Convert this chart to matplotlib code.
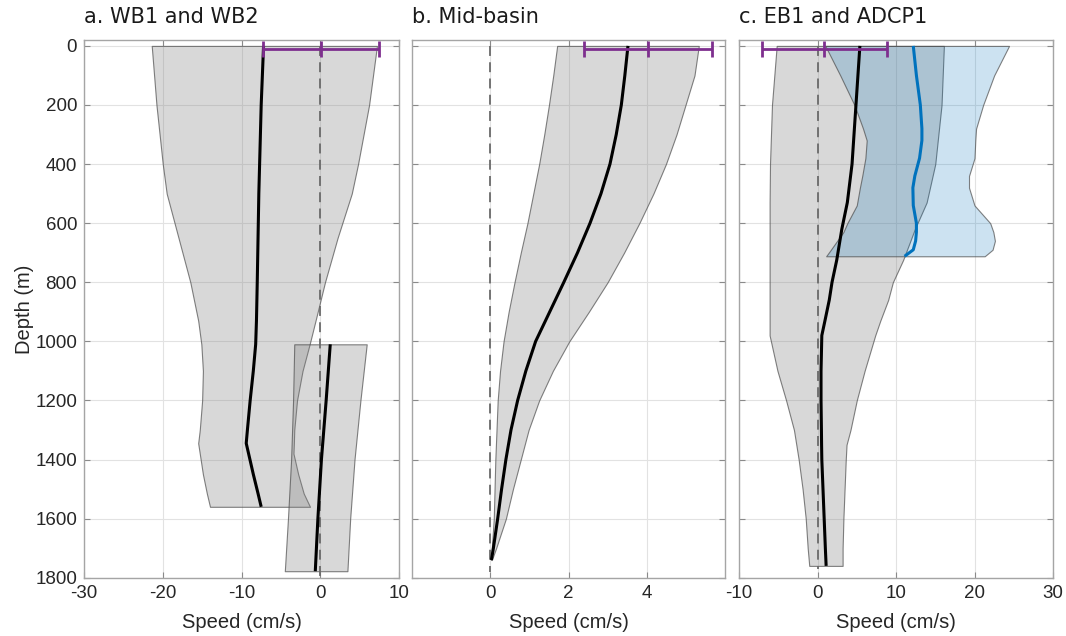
import matplotlib
matplotlib.use("Agg")
import matplotlib.pyplot as plt

plt.rcParams["axes.unicode_minus"] = False

# ---------------- data ----------------
# a. WB1 (upper mooring) and WB2 (lower mooring)
wb1_depth = [0, 200, 400, 500, 650, 800, 930, 1010, 1100, 1200, 1300, 1345, 1380, 1450, 1515, 1560]
wb1_mean = [-7.2, -7.5, -7.7, -7.8, -7.9, -8.0, -8.1, -8.2, -8.5, -8.9, -9.25, -9.4, -9.1, -8.5, -7.9, -7.5]
wb1_low = [-21.4, -20.8, -20.0, -19.5, -18.0, -16.5, -15.5, -15.1, -14.9, -15.0, -15.3, -15.5, -15.3, -14.9, -14.4, -14.0]
wb1_high = [7.2, 6.2, 4.8, 4.0, 2.2, 0.6, -0.6, -1.35, -2.25, -2.95, -3.3, -3.35, -3.4, -2.8, -2.1, -1.3]

wb2_depth = [1010, 1200, 1400, 1600, 1778]
wb2_mean = [1.27, 0.75, 0.15, -0.3, -0.63]
wb2_low = [-3.3, -3.45, -3.7, -4.1, -4.5]
wb2_high = [5.9, 5.1, 4.35, 3.8, 3.45]

# b. Mid-basin
mid_depth = [0, 100, 200, 300, 400, 500, 600, 700, 800, 900, 1000, 1100, 1200, 1300, 1400, 1500, 1600, 1700, 1740]
mid_mean = [3.52, 3.44, 3.35, 3.22, 3.06, 2.83, 2.55, 2.23, 1.88, 1.52, 1.16, 0.91, 0.70, 0.53, 0.40, 0.29, 0.19, 0.08, 0.03]
mid_low = [1.71, 1.61, 1.50, 1.38, 1.25, 1.10, 0.95, 0.78, 0.62, 0.47, 0.34, 0.25, 0.19, 0.16, 0.13, 0.11, 0.09, 0.04, 0.02]
mid_high = [5.33, 5.22, 4.99, 4.76, 4.49, 4.17, 3.81, 3.42, 3.00, 2.52, 2.02, 1.60, 1.25, 0.98, 0.78, 0.58, 0.40, 0.15, 0.04]

# c. EB1 and ADCP1
eb1_depth = [0, 200, 400, 530, 620, 725, 800, 860, 930, 980, 1100, 1200, 1300, 1350, 1400, 1500, 1600, 1700, 1760]
eb1_mean = [5.4, 4.9, 4.4, 3.8, 3.1, 2.45, 1.85, 1.5, 0.95, 0.55, 0.45, 0.45, 0.5, 0.52, 0.55, 0.7, 0.85, 1.0, 1.1]
eb1_low = [-5.2, -5.8, -6.05, -6.1, -6.1, -6.1, -6.1, -6.1, -6.1, -6.1, -5.1, -4.0, -3.0, -2.7, -2.4, -1.9, -1.5, -1.25, -1.05]
eb1_high = [16.1, 15.8, 15.0, 13.9, 12.4, 10.9, 9.6, 9.0, 8.0, 7.35, 6.0, 5.0, 4.2, 3.7, 3.6, 3.45, 3.3, 3.2, 3.2]

adcp_depth = [0, 100, 200, 280, 320, 380, 440, 480, 540, 600, 630, 660, 690, 712]
adcp_mean = [12.2, 12.6, 13.1, 13.3, 13.3, 13.0, 12.4, 12.15, 12.2, 12.6, 12.6, 12.5, 12.2, 11.1]
adcp_low = [1.0, 2.9, 4.7, 5.8, 6.27, 6.1, 5.7, 5.4, 5.0, 3.8, 3.3, 2.5, 1.7, 1.1]
adcp_high = [24.4, 22.5, 21.1, 20.2, 20.1, 20.0, 19.3, 19.3, 20.0, 22.0, 22.4, 22.6, 22.3, 21.3]

# near-surface estimate (centre, half-width) drawn as a horizontal error bar
surf_depth = 9
surf_center = [0.1, 4.03, 0.85]
surf_err = [7.4, 1.64, 7.95]

# zero-speed reference line depth extent per panel
zero_extent = [1800, 1780, 1770]

titles = ["a. WB1 and WB2", "b. Mid-basin", "c. EB1 and ADCP1"]
xlims = [(-30, 10), (-2, 6), (-10, 30)]
xticks = [[-30, -20, -10, 0, 10], [0, 2, 4], [-10, 0, 10, 20, 30]]
yticks = [0, 200, 400, 600, 800, 1000, 1200, 1400, 1600, 1800]

# ---------------- style ----------------
GRAY_FILL = (0.5, 0.5, 0.5, 0.30)
GRAY_EDGE = (0.30, 0.30, 0.30, 0.70)
BLUE_FILL = (0.0, 0.447, 0.741, 0.20)
BLUE_LINE = (0.0, 0.447, 0.741)
PURPLE = (0.494, 0.184, 0.556)
TEXT = "#262626"
TICK_FONT = "Liberation Sans"

fig = plt.figure(figsize=(10.66, 6.36), dpi=100)
W, H = 1066, 636
lefts = [84, 412, 739]
widths = [315, 313, 314]
bottom_px, top_px = 578, 40

axes = []
for i in range(3):
    ax = fig.add_axes([lefts[i] / W, (H - bottom_px) / H, widths[i] / W, (bottom_px - top_px) / H])
    axes.append(ax)


def profile(ax, depth, low, mean, high, fill=GRAY_FILL, line="black"):
    ax.fill_betweenx(depth, low, high, facecolor=fill, edgecolor=GRAY_EDGE, linewidth=0.8, zorder=1)
    return depth, mean, line


lines = []
lines.append((0, profile(axes[0], wb1_depth, wb1_low, wb1_mean, wb1_high)))
lines.append((0, profile(axes[0], wb2_depth, wb2_low, wb2_mean, wb2_high)))
lines.append((1, profile(axes[1], mid_depth, mid_low, mid_mean, mid_high)))
lines.append((2, profile(axes[2], eb1_depth, eb1_low, eb1_mean, eb1_high)))
lines.append((2, profile(axes[2], adcp_depth, adcp_low, adcp_mean, adcp_high, fill=BLUE_FILL, line=BLUE_LINE)))

for i, ax in enumerate(axes):
    ax.plot([0, 0], [0, zero_extent[i]], color="#6a6a6a", lw=1.3, dashes=(5.5, 3.5), zorder=2)

for i, (d, m, c) in lines:
    axes[i].plot(m, d, color=c, lw=2.2, zorder=3, solid_capstyle="butt")

for i, ax in enumerate(axes):
    ax.errorbar([surf_center[i]], [surf_depth], xerr=[surf_err[i]], fmt="none",
                ecolor=PURPLE, elinewidth=2.0, capsize=6.0, capthick=2.0, zorder=4)
    ax.plot([surf_center[i]], [surf_depth], marker="|", color=PURPLE, markersize=12.0,
            markeredgewidth=2.0, zorder=4)

for i, ax in enumerate(axes):
    ax.set_xlim(*xlims[i])
    ax.set_ylim(1801, -20)
    ax.set_xticks(xticks[i])
    ax.set_yticks(yticks)
    ax.set_axisbelow(True)
    ax.grid(True, color="#e2e2e2", lw=0.8)
    for s in ax.spines.values():
        s.set_color("#a5a5a5")
        s.set_linewidth(1.0)
    ax.tick_params(direction="in", length=4, width=0.8, color="#8a8a8a",
                   top=True, right=True, labelsize=13.5, labelcolor=TEXT, pad=5)
    for lab in ax.get_xticklabels() + ax.get_yticklabels():
        lab.set_fontfamily(TICK_FONT)
    if i > 0:
        ax.tick_params(labelleft=False)
    ax.set_xlabel("Speed (cm/s)", fontsize=14.5, family=TICK_FONT, color=TEXT, labelpad=8)
    ax.set_title(titles[i], loc="left", fontsize=15, family="DejaVu Sans",
                 color="#1a1a1a", pad=12)

axes[0].set_ylabel("Depth (m)", fontsize=14.5, family=TICK_FONT, color=TEXT, labelpad=1)

fig.savefig("out.png", dpi=100)
